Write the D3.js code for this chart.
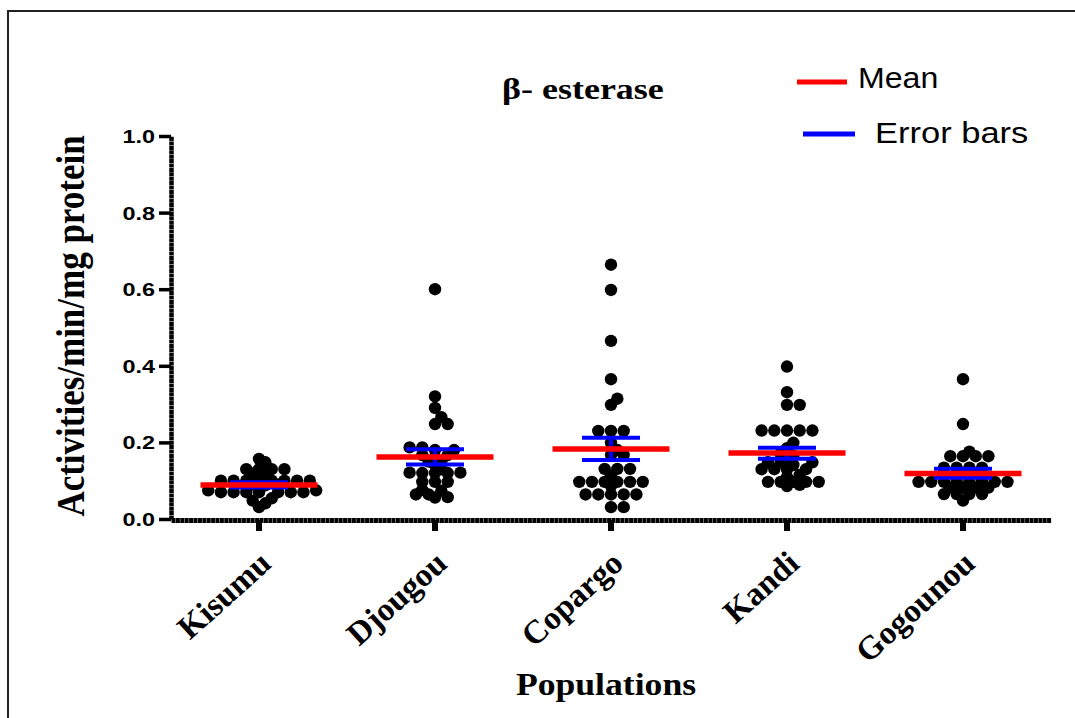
<!DOCTYPE html>
<html>
<head>
<meta charset="utf-8">
<script src="https://cdn.jsdelivr.net/npm/d3@7"></script>
<style>
  body { margin: 0; background: #fff; }
</style>
</head>
<body>
<div id="chart"></div>
<script>
const w = 1075
const h = 718

const categories = ['Kisumu', 'Djougou', 'Copargo', 'Kandi', 'Gogounou']

// activities per mosquito
const kisumu = [0.157, 0.148, 0.130, 0.130, 0.130, 0.130, 0.117, 0.119,
    0.100, 0.100, 0.100, 0.100, 0.100, 0.100, 0.100, 0.100,
    0.090, 0.090, 0.088, 0.075, 0.075,
    0.070, 0.070, 0.070, 0.070, 0.070, 0.070, 0.070,
    0.054, 0.048, 0.041, 0.031]
const djougou = [0.600, 0.320, 0.290, 0.266, 0.248, 0.248, 0.187, 0.187, 0.180, 0.180,
    0.167, 0.167, 0.160, 0.150, 0.150, 0.141, 0.130, 0.121, 0.120, 0.120, 0.120, 0.121,
    0.097, 0.097, 0.097, 0.076, 0.074, 0.064, 0.064, 0.057, 0.056]
const copargo = [0.664, 0.598, 0.465, 0.365, 0.314, 0.298, 0.230, 0.230, 0.230, 0.199,
    0.180, 0.167, 0.167, 0.131, 0.131, 0.131, 0.114,
    0.097, 0.097, 0.097, 0.097, 0.097, 0.097, 0.086,
    0.064, 0.064, 0.064, 0.064, 0.064, 0.031, 0.031]
const kandi = [0.398, 0.331, 0.298, 0.298, 0.231, 0.231, 0.231, 0.231, 0.231, 0.199,
    0.185, 0.170, 0.165, 0.156, 0.148, 0.148, 0.148, 0.141, 0.130, 0.130, 0.130, 0.130,
    0.115, 0.109, 0.097, 0.097, 0.097, 0.097, 0.097, 0.089, 0.086]
const gogounou = [0.365, 0.248, 0.176, 0.164, 0.164, 0.164, 0.164,
    0.134, 0.134, 0.134, 0.134, 0.120, 0.120,
    0.097, 0.097, 0.097, 0.097, 0.097, 0.097, 0.097, 0.097,
    0.082, 0.082, 0.082, 0.082, 0.065, 0.065, 0.065, 0.065, 0.048]
const groups = [kisumu, djougou, copargo, kandi, gogounou]

const meanValues = [0.089, 0.162, 0.183, 0.172, 0.119]
const errLow = [0.082, 0.142, 0.154, 0.157, 0.108]
const errHigh = [0.096, 0.182, 0.212, 0.186, 0.131]

const yTicks = [0, 0.2, 0.4, 0.6, 0.8, 1.0]

const serif = '"Liberation Serif", "Times New Roman", serif'
const sans = '"Liberation Sans", Arial, sans-serif'

const svg = d3.select('#chart')
    .append('svg')
    .attr('width', w)
    .attr('height', h)

// frame round the figure
svg.append('rect')
    .attr('x', 8)
    .attr('y', 11)
    .attr('width', 1200)
    .attr('height', 800)
    .attr('fill', 'none')
    .attr('stroke', '#222')
    .attr('stroke-width', 2)

const xScale = d3.scaleBand()
    .domain(categories)
    .range([171, 1051])

const yScale = d3.scaleLinear()
    .domain([0, 1])
    .range([519, 136])

// y axis
const yAxis = svg.append('g')
    .attr('transform', 'translate(171,0)')
    .call(d3.axisLeft(yScale).tickValues(yTicks).tickFormat(d3.format('.1f')).tickSize(12).tickSizeOuter(0))
yAxis.select('.domain').attr('stroke-width', 4.5).attr('stroke-dasharray', '4,0.4')
yAxis.selectAll('.tick line').attr('stroke-width', 3.5)
yAxis.selectAll('.tick text')
    .attr('x', null)
    .attr('dy', '0.36em')
    .attr('text-anchor', 'end')
    .attr('transform', 'translate(-16,0) scale(1.3,1)')
    .attr('font-family', sans)
    .attr('font-weight', 'bold')
    .attr('font-size', '18px')
    .attr('fill', '#000')

// x axis
const xAxis = svg.append('g')
    .attr('transform', 'translate(0,520)')
    .call(d3.axisBottom(xScale).tickSize(11).tickSizeOuter(0))
xAxis.select('.domain').attr('stroke-width', 5).attr('stroke-dasharray', '4,0.4')
xAxis.selectAll('.tick line').attr('stroke-width', 6)
xAxis.selectAll('.tick text')
    .attr('y', null)
    .attr('dy', null)
    .attr('text-anchor', 'end')
    .attr('transform', 'translate(14,46) rotate(-42)')
    .attr('font-family', serif)
    .attr('font-weight', 'bold')
    .attr('font-size', '33px')
    .attr('fill', '#000')

// scatter dots, spread sideways like a column scatter (dots may overlap a bit)
function swarm(values, cx){
    const minDist = 7
    const step = 6.35
    let placed = []
    values.slice().sort(function(a, b){ return a - b }).forEach(function(v){
        const py = yScale(v)
        for(let k = 0; k < 80; k++){
            const off = (k % 2 ? 1 : -1) * Math.ceil(k / 2) * step
            const px = cx + off
            const ok = placed.every(function(p){
                return Math.hypot(p.x - px, p.y - py) >= minDist
            })
            if(ok){
                placed.push({x: px, y: py, v: v})
                break
            }
        }
    })
    return placed
}

groups.forEach(function(vals, i){
    const cx = xScale(categories[i]) + xScale.bandwidth() / 2
    svg.append('g')
        .selectAll('circle')
        .data(swarm(vals, cx))
        .enter()
        .append('circle')
        .attr('cx', function(d){ return d.x })
        .attr('cy', function(d){ return d.y })
        .attr('r', 6.2)
        .attr('fill', '#000')
})

// error bars
const capW = 58
const meanW = 117
const errG = svg.append('g')
    .attr('stroke', '#0000ff')
    .attr('stroke-width', 4)
categories.forEach(function(c, i){
    const cx = xScale(c) + xScale.bandwidth() / 2
    errG.append('line')
        .attr('x1', cx).attr('x2', cx)
        .attr('y1', yScale(errLow[i])).attr('y2', yScale(errHigh[i]))
    errG.append('line')
        .attr('x1', cx - capW / 2).attr('x2', cx + capW / 2)
        .attr('y1', yScale(errLow[i])).attr('y2', yScale(errLow[i]))
    errG.append('line')
        .attr('x1', cx - capW / 2).attr('x2', cx + capW / 2)
        .attr('y1', yScale(errHigh[i])).attr('y2', yScale(errHigh[i]))
})

// means
svg.append('g')
    .selectAll('line')
    .data(meanValues)
    .enter()
    .append('line')
    .attr('x1', function(d, i){ return xScale(categories[i]) + xScale.bandwidth() / 2 - meanW / 2 })
    .attr('x2', function(d, i){ return xScale(categories[i]) + xScale.bandwidth() / 2 + meanW / 2 })
    .attr('y1', function(d){ return yScale(d) })
    .attr('y2', function(d){ return yScale(d) })
    .attr('stroke', '#ff0000')
    .attr('stroke-width', 5.5)

// titles
svg.append('text')
    .attr('transform', 'translate(502,99) scale(1.2,1)')
    .attr('font-family', serif)
    .attr('font-weight', 'bold')
    .attr('font-size', '30px')
    .text('β- esterase')

svg.append('text')
    .attr('transform', 'translate(606,695) scale(1.15,1)')
    .attr('text-anchor', 'middle')
    .attr('font-family', serif)
    .attr('font-weight', 'bold')
    .attr('font-size', '31px')
    .text('Populations')

svg.append('text')
    .attr('transform', 'translate(84,326) rotate(-90) scale(1,1.12)')
    .attr('text-anchor', 'middle')
    .attr('font-family', serif)
    .attr('font-weight', 'bold')
    .attr('font-size', '35px')
    .text('Activities/min/mg protein')

// legend
svg.append('line')
    .attr('x1', 797).attr('x2', 847)
    .attr('y1', 82).attr('y2', 82)
    .attr('stroke', '#ff0000')
    .attr('stroke-width', 5)
svg.append('text')
    .attr('transform', 'translate(858,88) scale(1.07,1)')
    .attr('font-family', sans)
    .attr('font-size', '30px')
    .text('Mean')

svg.append('line')
    .attr('x1', 803).attr('x2', 855)
    .attr('y1', 134).attr('y2', 134)
    .attr('stroke', '#0000ff')
    .attr('stroke-width', 5)
svg.append('text')
    .attr('transform', 'translate(875,143) scale(1.15,1)')
    .attr('font-family', sans)
    .attr('font-size', '30px')
    .text('Error bars')
</script>
</body>
</html>
